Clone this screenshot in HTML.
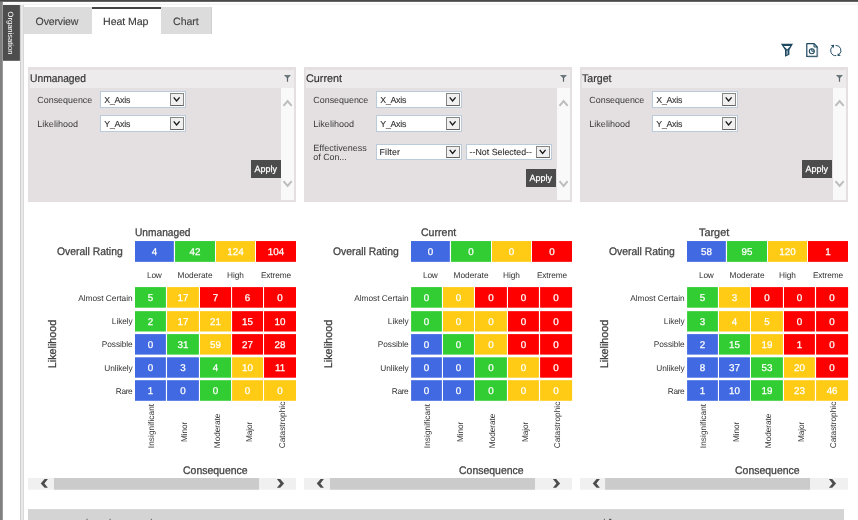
<!DOCTYPE html>
<html><head><meta charset="utf-8"><title>Heat Map</title>
<style>
html,body{margin:0;padding:0;background:#fff;}
body{width:858px;height:520px;overflow:hidden;position:relative;font-family:"Liberation Sans",sans-serif;}
#r{will-change:transform;position:absolute;left:0;top:0;width:858px;height:520px;overflow:hidden;background:#fff;}
#r div,#r span,#r svg{position:absolute;display:block;}
#r span{white-space:nowrap;line-height:1;text-rendering:geometricPrecision;}
</style></head>
<body><div id="r">
<div style="left:0px;top:0px;width:858px;height:1px;background:#484848;"></div>
<div style="left:0px;top:1px;width:858px;height:1px;background:#666666;"></div>
<div style="left:3px;top:3px;width:855px;height:1px;background:#fafafa;"></div>
<div style="left:3px;top:4px;width:855px;height:1px;background:#f4f4f4;"></div>
<div style="left:0px;top:2px;width:2px;height:518px;background:#808080;"></div>
<div style="left:2px;top:2px;width:1px;height:518px;background:#9a9a9a;"></div>
<svg style="left:3px;top:5px" width="17" height="56" viewBox="0 0 17 56"><rect x="0" y="0" width="16.9" height="55.8" fill="#4d4d4d"/></svg>
<span style="left:10.40px;top:32.50px;font-size:7.6px;color:#fff;transform:translate(-50%,-50%) rotate(90deg);letter-spacing:-0.008px;margin-left:-0.00px;">Organisation</span>
<div style="left:20px;top:5px;width:4px;height:515px;background:#e9e9e9;"></div>
<div style="left:20px;top:5px;width:1px;height:515px;background:#cdcdcd;"></div>
<div style="left:23px;top:5px;width:1px;height:515px;background:#d8d8d8;"></div>
<div style="left:24px;top:7px;width:68px;height:27px;background:#dcdcdc;"></div>
<div style="left:92px;top:7px;width:69px;height:27px;background:#fff;"></div>
<div style="left:92px;top:7px;width:69px;height:2px;background:#444;"></div>
<div style="left:161px;top:7px;width:51px;height:27px;background:#dcdcdc;"></div>
<div style="left:211px;top:7px;width:1px;height:27px;background:#cfcfcf;"></div>
<span style="left:35.62px;top:16px;font-size:10.6px;line-height:12px;height:12px;color:#444;letter-spacing:-0.197px;-webkit-text-stroke:0.12px #444;">Overview</span>
<span style="left:103.12px;top:16px;font-size:10.6px;line-height:12px;height:12px;color:#3a3a3a;letter-spacing:-0.080px;-webkit-text-stroke:0.12px #3a3a3a;">Heat Map</span>
<span style="left:173.12px;top:16px;font-size:10.6px;line-height:12px;height:12px;color:#444;letter-spacing:-0.105px;-webkit-text-stroke:0.12px #444;">Chart</span>
<svg style="left:780px;top:43px" width="14" height="15" viewBox="0 0 14 15"><path d="M0.9 0.8 H13 L9.4 6.9 V11.8 L5 13.8 V6.9 Z" fill="#1d4860"/><path d="M3.7 2.9 H10.3 L7.2 6.4 Z" fill="#fff"/><path d="M6.4 7.6 H8.1 V11.2 L6.4 12.1 Z" fill="#8fa4b1"/></svg>
<svg style="left:805px;top:42px" width="14" height="16" viewBox="0 0 14 16"><path d="M1.8 1.7 H9 L12.2 5 V14.4 H1.8 Z" fill="#fff" stroke="#1d4860" stroke-width="1.2" stroke-linejoin="round"/><path d="M12.9 6 V15.1 H3" fill="none" stroke="#9db0bc" stroke-width="0.6"/><path d="M9 1.7 V5 H12.2 Z" fill="#dbe3e8" stroke="#1d4860" stroke-width="1" stroke-linejoin="round"/><circle cx="6.8" cy="9.2" r="2.5" fill="none" stroke="#1d4860" stroke-width="1.1"/><path d="M6.8 6.8 V9.2 H9.2" fill="none" stroke="#1d4860" stroke-width="1"/></svg>
<svg style="left:829px;top:43px" width="14" height="15" viewBox="0 0 14 15"><path d="M7.3 12.6 A5.1 5.1 0 0 1 3.6 3.5" fill="none" stroke="#1d4860" stroke-width="0.95"/><path d="M6.5 2.4 A5.1 5.1 0 0 1 10.0 11.5" fill="none" stroke="#1d4860" stroke-width="0.95"/><path d="M1.7 2.3 L5.0 1.8 L4.8 5.0 Z" fill="#1d4860"/><path d="M8.5 13.1 L8.8 10.2 L11.8 12.8 Z" fill="#1d4860"/></svg>
<div style="left:28px;top:67px;width:268px;height:135px;background:#e4dfe0;"></div>
<div style="left:30px;top:70px;width:264px;height:18px;background:#edebec;"></div>
<div style="left:281px;top:88px;width:13px;height:112px;background:#f9f9f9;"></div>
<span style="left:30.09px;top:73px;font-size:11.0px;line-height:12px;height:12px;color:#363636;-webkit-text-stroke:0.2px #363636;transform:scaleX(0.9344);transform-origin:0 0;">Unmanaged</span>
<svg style="left:283.6px;top:74px" width="8" height="9" viewBox="0 0 8 9"><path d="M0 0.9 H6.9 L4.1 4.1 V7.7 H2.9 V4.1 Z" fill="#5a656b"/><path d="M1.4 2 H5.5" stroke="#98a1a6" stroke-width="0.6"/></svg>
<svg style="left:281px;top:96px" width="13" height="14" viewBox="0 0 13 14"><path d="M2.50 9.90 L6.60 5.10 L10.70 9.90" fill="none" stroke="#bebdbd" stroke-width="2.0"/></svg>
<svg style="left:281px;top:176px" width="13" height="14" viewBox="0 0 13 14"><path d="M2.50 5.20 L6.60 10.00 L10.70 5.20" fill="none" stroke="#bebdbd" stroke-width="2.0"/></svg>
<span style="left:37.31px;top:95px;font-size:8.91px;line-height:10px;height:10px;color:#3a3a3a;letter-spacing:0.001px;">Consequence</span>
<div style="left:100px;top:91px;width:86px;height:17px;background:#fff;border:1px solid #bccbda;box-sizing:border-box;"></div>
<div style="left:170px;top:93px;width:14px;height:13px;background:#f0f0f0;border:1px solid #868686;border-bottom-color:#646464;box-sizing:border-box;"></div>
<svg style="left:170px;top:93px" width="14" height="13" viewBox="0 0 14 13"><path d="M3.7 4.40 L6.6 8.00 L9.6 4.40" fill="none" stroke="#161616" stroke-width="1.3"/></svg>
<span style="left:104.32px;top:95px;font-size:8.8px;line-height:10px;height:10px;color:#2e2e2e;letter-spacing:-0.278px;-webkit-text-stroke:0.1px #2e2e2e;">X_Axis</span>
<span style="left:37.30px;top:119px;font-size:9.06px;line-height:10px;height:10px;color:#3a3a3a;letter-spacing:-0.000px;">Likelihood</span>
<div style="left:100px;top:115px;width:86px;height:17px;background:#fff;border:1px solid #bccbda;box-sizing:border-box;"></div>
<div style="left:170px;top:117px;width:14px;height:13px;background:#f0f0f0;border:1px solid #868686;border-bottom-color:#646464;box-sizing:border-box;"></div>
<svg style="left:170px;top:117px" width="14" height="13" viewBox="0 0 14 13"><path d="M3.7 4.40 L6.6 8.00 L9.6 4.40" fill="none" stroke="#161616" stroke-width="1.3"/></svg>
<span style="left:104.32px;top:119px;font-size:8.8px;line-height:10px;height:10px;color:#2e2e2e;letter-spacing:-0.278px;-webkit-text-stroke:0.1px #2e2e2e;">Y_Axis</span>
<div style="left:251px;top:160px;width:30px;height:18px;background:#4c4c4c;"></div>
<span style="left:254.60px;top:164px;font-size:9.02px;line-height:10px;height:10px;color:#fff;letter-spacing:-0.041px;-webkit-text-stroke:0.25px #fff;">Apply</span>
<div style="left:304px;top:67px;width:268px;height:135px;background:#e4dfe0;"></div>
<div style="left:306px;top:70px;width:264px;height:18px;background:#edebec;"></div>
<div style="left:557px;top:88px;width:13px;height:112px;background:#f9f9f9;"></div>
<span style="left:306.09px;top:73px;font-size:11.0px;line-height:12px;height:12px;color:#363636;-webkit-text-stroke:0.2px #363636;transform:scaleX(0.9814);transform-origin:0 0;">Current</span>
<svg style="left:559.6px;top:74px" width="8" height="9" viewBox="0 0 8 9"><path d="M0 0.9 H6.9 L4.1 4.1 V7.7 H2.9 V4.1 Z" fill="#5a656b"/><path d="M1.4 2 H5.5" stroke="#98a1a6" stroke-width="0.6"/></svg>
<svg style="left:557px;top:96px" width="13" height="14" viewBox="0 0 13 14"><path d="M2.50 9.90 L6.60 5.10 L10.70 9.90" fill="none" stroke="#bebdbd" stroke-width="2.0"/></svg>
<svg style="left:557px;top:176px" width="13" height="14" viewBox="0 0 13 14"><path d="M2.50 5.20 L6.60 10.00 L10.70 5.20" fill="none" stroke="#bebdbd" stroke-width="2.0"/></svg>
<span style="left:313.31px;top:95px;font-size:8.91px;line-height:10px;height:10px;color:#3a3a3a;letter-spacing:0.001px;">Consequence</span>
<div style="left:376px;top:91px;width:86px;height:17px;background:#fff;border:1px solid #bccbda;box-sizing:border-box;"></div>
<div style="left:446px;top:93px;width:14px;height:13px;background:#f0f0f0;border:1px solid #868686;border-bottom-color:#646464;box-sizing:border-box;"></div>
<svg style="left:446px;top:93px" width="14" height="13" viewBox="0 0 14 13"><path d="M3.7 4.40 L6.6 8.00 L9.6 4.40" fill="none" stroke="#161616" stroke-width="1.3"/></svg>
<span style="left:380.32px;top:95px;font-size:8.8px;line-height:10px;height:10px;color:#2e2e2e;letter-spacing:-0.278px;-webkit-text-stroke:0.1px #2e2e2e;">X_Axis</span>
<span style="left:313.30px;top:119px;font-size:9.06px;line-height:10px;height:10px;color:#3a3a3a;letter-spacing:-0.000px;">Likelihood</span>
<div style="left:376px;top:115px;width:86px;height:17px;background:#fff;border:1px solid #bccbda;box-sizing:border-box;"></div>
<div style="left:446px;top:117px;width:14px;height:13px;background:#f0f0f0;border:1px solid #868686;border-bottom-color:#646464;box-sizing:border-box;"></div>
<svg style="left:446px;top:117px" width="14" height="13" viewBox="0 0 14 13"><path d="M3.7 4.40 L6.6 8.00 L9.6 4.40" fill="none" stroke="#161616" stroke-width="1.3"/></svg>
<span style="left:380.32px;top:119px;font-size:8.8px;line-height:10px;height:10px;color:#2e2e2e;letter-spacing:-0.278px;-webkit-text-stroke:0.1px #2e2e2e;">Y_Axis</span>
<span style="left:313.30px;top:143px;font-size:9.02px;line-height:10px;height:10px;color:#3a3a3a;letter-spacing:0.001px;">Effectiveness</span>
<span style="left:313.31px;top:152px;font-size:8.86px;line-height:10px;height:10px;color:#3a3a3a;letter-spacing:0.001px;">of Con...</span>
<div style="left:376px;top:144px;width:86px;height:16px;background:#fff;border:1px solid #bccbda;box-sizing:border-box;"></div>
<div style="left:446px;top:146px;width:14px;height:12px;background:#f0f0f0;border:1px solid #868686;border-bottom-color:#646464;box-sizing:border-box;"></div>
<svg style="left:446px;top:146px" width="14" height="12" viewBox="0 0 14 12"><path d="M3.7 3.90 L6.6 7.50 L9.6 3.90" fill="none" stroke="#161616" stroke-width="1.3"/></svg>
<span style="left:379.52px;top:147px;font-size:8.8px;line-height:10px;height:10px;color:#2e2e2e;letter-spacing:0.189px;-webkit-text-stroke:0.1px #2e2e2e;">Filter</span>
<div style="left:466px;top:144px;width:86px;height:16px;background:#fff;border:1px solid #bccbda;box-sizing:border-box;"></div>
<div style="left:536px;top:146px;width:14px;height:12px;background:#f0f0f0;border:1px solid #868686;border-bottom-color:#646464;box-sizing:border-box;"></div>
<svg style="left:536px;top:146px" width="14" height="12" viewBox="0 0 14 12"><path d="M3.7 3.90 L6.6 7.50 L9.6 3.90" fill="none" stroke="#161616" stroke-width="1.3"/></svg>
<span style="left:469.52px;top:147px;font-size:8.8px;line-height:10px;height:10px;color:#2e2e2e;letter-spacing:0.026px;-webkit-text-stroke:0.1px #2e2e2e;">--Not Selected--</span>
<div style="left:526px;top:169px;width:30px;height:18px;background:#4c4c4c;"></div>
<span style="left:529.60px;top:173px;font-size:9.02px;line-height:10px;height:10px;color:#fff;letter-spacing:-0.041px;-webkit-text-stroke:0.25px #fff;">Apply</span>
<div style="left:580px;top:67px;width:268px;height:135px;background:#e4dfe0;"></div>
<div style="left:582px;top:70px;width:264px;height:18px;background:#edebec;"></div>
<div style="left:833px;top:88px;width:13px;height:112px;background:#f9f9f9;"></div>
<span style="left:581.60px;top:73px;font-size:11.0px;line-height:12px;height:12px;color:#363636;-webkit-text-stroke:0.2px #363636;transform:scaleX(0.9649);transform-origin:0 0;">Target</span>
<svg style="left:835.6px;top:74px" width="8" height="9" viewBox="0 0 8 9"><path d="M0 0.9 H6.9 L4.1 4.1 V7.7 H2.9 V4.1 Z" fill="#5a656b"/><path d="M1.4 2 H5.5" stroke="#98a1a6" stroke-width="0.6"/></svg>
<svg style="left:833px;top:96px" width="13" height="14" viewBox="0 0 13 14"><path d="M2.50 9.90 L6.60 5.10 L10.70 9.90" fill="none" stroke="#bebdbd" stroke-width="2.0"/></svg>
<svg style="left:833px;top:176px" width="13" height="14" viewBox="0 0 13 14"><path d="M2.50 5.20 L6.60 10.00 L10.70 5.20" fill="none" stroke="#bebdbd" stroke-width="2.0"/></svg>
<span style="left:589.31px;top:95px;font-size:8.91px;line-height:10px;height:10px;color:#3a3a3a;letter-spacing:0.001px;">Consequence</span>
<div style="left:652px;top:91px;width:86px;height:17px;background:#fff;border:1px solid #bccbda;box-sizing:border-box;"></div>
<div style="left:722px;top:93px;width:14px;height:13px;background:#f0f0f0;border:1px solid #868686;border-bottom-color:#646464;box-sizing:border-box;"></div>
<svg style="left:722px;top:93px" width="14" height="13" viewBox="0 0 14 13"><path d="M3.7 4.40 L6.6 8.00 L9.6 4.40" fill="none" stroke="#161616" stroke-width="1.3"/></svg>
<span style="left:656.32px;top:95px;font-size:8.8px;line-height:10px;height:10px;color:#2e2e2e;letter-spacing:-0.278px;-webkit-text-stroke:0.1px #2e2e2e;">X_Axis</span>
<span style="left:589.30px;top:119px;font-size:9.06px;line-height:10px;height:10px;color:#3a3a3a;letter-spacing:-0.000px;">Likelihood</span>
<div style="left:652px;top:115px;width:86px;height:17px;background:#fff;border:1px solid #bccbda;box-sizing:border-box;"></div>
<div style="left:722px;top:117px;width:14px;height:13px;background:#f0f0f0;border:1px solid #868686;border-bottom-color:#646464;box-sizing:border-box;"></div>
<svg style="left:722px;top:117px" width="14" height="13" viewBox="0 0 14 13"><path d="M3.7 4.40 L6.6 8.00 L9.6 4.40" fill="none" stroke="#161616" stroke-width="1.3"/></svg>
<span style="left:656.32px;top:119px;font-size:8.8px;line-height:10px;height:10px;color:#2e2e2e;letter-spacing:-0.278px;-webkit-text-stroke:0.1px #2e2e2e;">Y_Axis</span>
<div style="left:802px;top:160px;width:30px;height:18px;background:#4c4c4c;"></div>
<span style="left:805.60px;top:164px;font-size:9.02px;line-height:10px;height:10px;color:#fff;letter-spacing:-0.041px;-webkit-text-stroke:0.25px #fff;">Apply</span>
<svg style="left:0;top:0" width="858" height="520" viewBox="0 0 858 520"><rect x="135.00" y="241.05" width="38.85" height="20.80" fill="#4169e1"/><rect x="175.05" y="241.05" width="39.95" height="20.80" fill="#32cd32"/><rect x="216.00" y="241.05" width="39.00" height="20.80" fill="#ffcb14"/><rect x="256.00" y="241.05" width="40.00" height="20.80" fill="#ff0000"/><rect x="135.00" y="287.10" width="30.90" height="20.60" fill="#32cd32"/><rect x="167.05" y="287.10" width="31.85" height="20.60" fill="#ffcb14"/><rect x="200.00" y="287.10" width="31.05" height="20.60" fill="#ff0000"/><rect x="232.10" y="287.10" width="30.90" height="20.60" fill="#ff0000"/><rect x="264.05" y="287.10" width="31.95" height="20.60" fill="#ff0000"/><rect x="135.00" y="311.15" width="30.90" height="20.35" fill="#32cd32"/><rect x="167.05" y="311.15" width="31.85" height="20.35" fill="#ffcb14"/><rect x="200.00" y="311.15" width="31.05" height="20.35" fill="#ffcb14"/><rect x="232.10" y="311.15" width="30.90" height="20.35" fill="#ff0000"/><rect x="264.05" y="311.15" width="31.95" height="20.35" fill="#ff0000"/><rect x="135.00" y="334.10" width="30.90" height="20.50" fill="#4169e1"/><rect x="167.05" y="334.10" width="31.85" height="20.50" fill="#32cd32"/><rect x="200.00" y="334.10" width="31.05" height="20.50" fill="#ffcb14"/><rect x="232.10" y="334.10" width="30.90" height="20.50" fill="#ff0000"/><rect x="264.05" y="334.10" width="31.95" height="20.50" fill="#ff0000"/><rect x="135.00" y="357.30" width="30.90" height="20.40" fill="#4169e1"/><rect x="167.05" y="357.30" width="31.85" height="20.40" fill="#4169e1"/><rect x="200.00" y="357.30" width="31.05" height="20.40" fill="#32cd32"/><rect x="232.10" y="357.30" width="30.90" height="20.40" fill="#ffcb14"/><rect x="264.05" y="357.30" width="31.95" height="20.40" fill="#ff0000"/><rect x="135.00" y="380.20" width="30.90" height="20.60" fill="#4169e1"/><rect x="167.05" y="380.20" width="31.85" height="20.60" fill="#4169e1"/><rect x="200.00" y="380.20" width="31.05" height="20.60" fill="#32cd32"/><rect x="232.10" y="380.20" width="30.90" height="20.60" fill="#ffcb14"/><rect x="264.05" y="380.20" width="31.95" height="20.60" fill="#ffcb14"/><rect x="28.00" y="478.00" width="268.00" height="11.70" fill="#f0f0f0"/><rect x="54.00" y="478.00" width="205.00" height="11.70" fill="#cbcbcb"/><rect x="411.00" y="241.05" width="38.85" height="20.80" fill="#4169e1"/><rect x="451.05" y="241.05" width="39.95" height="20.80" fill="#32cd32"/><rect x="492.00" y="241.05" width="39.00" height="20.80" fill="#ffcb14"/><rect x="532.00" y="241.05" width="40.00" height="20.80" fill="#ff0000"/><rect x="411.10" y="287.10" width="30.80" height="20.60" fill="#32cd32"/><rect x="443.00" y="287.10" width="30.95" height="20.60" fill="#ffcb14"/><rect x="475.00" y="287.10" width="31.90" height="20.60" fill="#ff0000"/><rect x="508.00" y="287.10" width="30.90" height="20.60" fill="#ff0000"/><rect x="540.10" y="287.10" width="32.00" height="20.60" fill="#ff0000"/><rect x="411.10" y="311.15" width="30.80" height="20.35" fill="#32cd32"/><rect x="443.00" y="311.15" width="30.95" height="20.35" fill="#ffcb14"/><rect x="475.00" y="311.15" width="31.90" height="20.35" fill="#ffcb14"/><rect x="508.00" y="311.15" width="30.90" height="20.35" fill="#ff0000"/><rect x="540.10" y="311.15" width="32.00" height="20.35" fill="#ff0000"/><rect x="411.10" y="334.10" width="30.80" height="20.50" fill="#4169e1"/><rect x="443.00" y="334.10" width="30.95" height="20.50" fill="#32cd32"/><rect x="475.00" y="334.10" width="31.90" height="20.50" fill="#ffcb14"/><rect x="508.00" y="334.10" width="30.90" height="20.50" fill="#ff0000"/><rect x="540.10" y="334.10" width="32.00" height="20.50" fill="#ff0000"/><rect x="411.10" y="357.30" width="30.80" height="20.40" fill="#4169e1"/><rect x="443.00" y="357.30" width="30.95" height="20.40" fill="#4169e1"/><rect x="475.00" y="357.30" width="31.90" height="20.40" fill="#32cd32"/><rect x="508.00" y="357.30" width="30.90" height="20.40" fill="#ffcb14"/><rect x="540.10" y="357.30" width="32.00" height="20.40" fill="#ff0000"/><rect x="411.10" y="380.20" width="30.80" height="20.60" fill="#4169e1"/><rect x="443.00" y="380.20" width="30.95" height="20.60" fill="#4169e1"/><rect x="475.00" y="380.20" width="31.90" height="20.60" fill="#32cd32"/><rect x="508.00" y="380.20" width="30.90" height="20.60" fill="#ffcb14"/><rect x="540.10" y="380.20" width="32.00" height="20.60" fill="#ffcb14"/><rect x="304.00" y="478.00" width="268.00" height="11.70" fill="#f0f0f0"/><rect x="330.00" y="478.00" width="205.00" height="11.70" fill="#cbcbcb"/><rect x="687.00" y="241.05" width="38.85" height="20.80" fill="#4169e1"/><rect x="727.05" y="241.05" width="39.95" height="20.80" fill="#32cd32"/><rect x="768.00" y="241.05" width="39.00" height="20.80" fill="#ffcb14"/><rect x="808.00" y="241.05" width="40.00" height="20.80" fill="#ff0000"/><rect x="687.10" y="287.10" width="30.80" height="20.60" fill="#32cd32"/><rect x="719.00" y="287.10" width="30.95" height="20.60" fill="#ffcb14"/><rect x="751.00" y="287.10" width="31.90" height="20.60" fill="#ff0000"/><rect x="784.00" y="287.10" width="30.90" height="20.60" fill="#ff0000"/><rect x="816.10" y="287.10" width="32.00" height="20.60" fill="#ff0000"/><rect x="687.10" y="311.15" width="30.80" height="20.35" fill="#32cd32"/><rect x="719.00" y="311.15" width="30.95" height="20.35" fill="#ffcb14"/><rect x="751.00" y="311.15" width="31.90" height="20.35" fill="#ffcb14"/><rect x="784.00" y="311.15" width="30.90" height="20.35" fill="#ff0000"/><rect x="816.10" y="311.15" width="32.00" height="20.35" fill="#ff0000"/><rect x="687.10" y="334.10" width="30.80" height="20.50" fill="#4169e1"/><rect x="719.00" y="334.10" width="30.95" height="20.50" fill="#32cd32"/><rect x="751.00" y="334.10" width="31.90" height="20.50" fill="#ffcb14"/><rect x="784.00" y="334.10" width="30.90" height="20.50" fill="#ff0000"/><rect x="816.10" y="334.10" width="32.00" height="20.50" fill="#ff0000"/><rect x="687.10" y="357.30" width="30.80" height="20.40" fill="#4169e1"/><rect x="719.00" y="357.30" width="30.95" height="20.40" fill="#4169e1"/><rect x="751.00" y="357.30" width="31.90" height="20.40" fill="#32cd32"/><rect x="784.00" y="357.30" width="30.90" height="20.40" fill="#ffcb14"/><rect x="816.10" y="357.30" width="32.00" height="20.40" fill="#ff0000"/><rect x="687.10" y="380.20" width="30.80" height="20.60" fill="#4169e1"/><rect x="719.00" y="380.20" width="30.95" height="20.60" fill="#4169e1"/><rect x="751.00" y="380.20" width="31.90" height="20.60" fill="#32cd32"/><rect x="784.00" y="380.20" width="30.90" height="20.60" fill="#ffcb14"/><rect x="816.10" y="380.20" width="32.00" height="20.60" fill="#ffcb14"/><rect x="580.00" y="478.00" width="268.00" height="11.70" fill="#f0f0f0"/><rect x="605.10" y="478.00" width="204.90" height="11.70" fill="#cbcbcb"/><rect x="28.00" y="509.10" width="816.00" height="10.90" fill="#d4d4d4"/><rect x="86.50" y="518.80" width="1.00" height="1.20" fill="#5a5a5a"/><rect x="109.60" y="518.80" width="1.00" height="1.20" fill="#5a5a5a"/><rect x="150.80" y="518.80" width="1.00" height="1.20" fill="#5a5a5a"/><rect x="603.90" y="518.80" width="1.00" height="1.20" fill="#5a5a5a"/><rect x="609.00" y="518.80" width="2.40" height="1.20" fill="#5a5a5a"/></svg>
<span style="left:134.95px;top:227px;font-size:11.0px;line-height:12px;height:12px;color:#444;-webkit-text-stroke:0.3px #444;transform:scaleX(0.9260);transform-origin:0 0;">Unmanaged</span>
<span style="left:57.00px;top:246px;font-size:11.0px;line-height:12px;height:12px;color:#444;-webkit-text-stroke:0.3px #444;transform:scaleX(0.9427);transform-origin:0 0;">Overall Rating</span>
<span style="left:151.70px;top:247px;font-size:9.8px;line-height:11px;height:11px;color:#fff;-webkit-text-stroke:0.25px #fff;">4</span>
<span style="left:189.57px;top:247px;font-size:9.8px;line-height:11px;height:11px;color:#fff;-webkit-text-stroke:0.25px #fff;">42</span>
<span style="left:227.32px;top:247px;font-size:9.8px;line-height:11px;height:11px;color:#fff;-webkit-text-stroke:0.25px #fff;">124</span>
<span style="left:267.82px;top:247px;font-size:9.8px;line-height:11px;height:11px;color:#fff;-webkit-text-stroke:0.25px #fff;">104</span>
<span style="left:147.03px;top:271px;font-size:8.3px;line-height:9px;height:9px;color:#333;letter-spacing:-0.213px;">Low</span>
<span style="left:177.53px;top:271px;font-size:8.3px;line-height:9px;height:9px;color:#333;letter-spacing:-0.009px;">Moderate</span>
<span style="left:227.10px;top:271px;font-size:8.3px;line-height:9px;height:9px;color:#333;letter-spacing:-0.090px;">High</span>
<span style="left:260.90px;top:271px;font-size:8.3px;line-height:9px;height:9px;color:#333;letter-spacing:-0.117px;">Extreme</span>
<span style="left:147.72px;top:293px;font-size:9.8px;line-height:11px;height:11px;color:#fff;-webkit-text-stroke:0.25px #fff;">5</span>
<span style="left:177.52px;top:293px;font-size:9.8px;line-height:11px;height:11px;color:#fff;-webkit-text-stroke:0.25px #fff;">17</span>
<span style="left:212.80px;top:293px;font-size:9.8px;line-height:11px;height:11px;color:#fff;-webkit-text-stroke:0.25px #fff;">7</span>
<span style="left:244.82px;top:293px;font-size:9.8px;line-height:11px;height:11px;color:#fff;-webkit-text-stroke:0.25px #fff;">6</span>
<span style="left:277.30px;top:293px;font-size:9.8px;line-height:11px;height:11px;color:#fff;-webkit-text-stroke:0.25px #fff;">0</span>
<span style="left:78.17px;top:294px;font-size:8.3px;line-height:9px;height:9px;color:#333;letter-spacing:0.005px;">Almost Certain</span>
<span style="left:147.72px;top:317px;font-size:9.8px;line-height:11px;height:11px;color:#fff;-webkit-text-stroke:0.25px #fff;">2</span>
<span style="left:177.52px;top:317px;font-size:9.8px;line-height:11px;height:11px;color:#fff;-webkit-text-stroke:0.25px #fff;">17</span>
<span style="left:210.07px;top:317px;font-size:9.8px;line-height:11px;height:11px;color:#fff;-webkit-text-stroke:0.25px #fff;">21</span>
<span style="left:242.10px;top:317px;font-size:9.8px;line-height:11px;height:11px;color:#fff;-webkit-text-stroke:0.25px #fff;">15</span>
<span style="left:274.57px;top:317px;font-size:9.8px;line-height:11px;height:11px;color:#fff;-webkit-text-stroke:0.25px #fff;">10</span>
<span style="left:111.87px;top:317px;font-size:8.3px;line-height:9px;height:9px;color:#333;letter-spacing:-0.084px;">Likely</span>
<span style="left:147.72px;top:340px;font-size:9.8px;line-height:11px;height:11px;color:#fff;-webkit-text-stroke:0.25px #fff;">0</span>
<span style="left:177.52px;top:340px;font-size:9.8px;line-height:11px;height:11px;color:#fff;-webkit-text-stroke:0.25px #fff;">31</span>
<span style="left:210.07px;top:340px;font-size:9.8px;line-height:11px;height:11px;color:#fff;-webkit-text-stroke:0.25px #fff;">59</span>
<span style="left:242.10px;top:340px;font-size:9.8px;line-height:11px;height:11px;color:#fff;-webkit-text-stroke:0.25px #fff;">27</span>
<span style="left:274.57px;top:340px;font-size:9.8px;line-height:11px;height:11px;color:#fff;-webkit-text-stroke:0.25px #fff;">28</span>
<span style="left:101.87px;top:340px;font-size:8.3px;line-height:9px;height:9px;color:#333;letter-spacing:-0.082px;">Possible</span>
<span style="left:147.72px;top:363px;font-size:9.8px;line-height:11px;height:11px;color:#fff;-webkit-text-stroke:0.25px #fff;">0</span>
<span style="left:180.25px;top:363px;font-size:9.8px;line-height:11px;height:11px;color:#fff;-webkit-text-stroke:0.25px #fff;">3</span>
<span style="left:212.80px;top:363px;font-size:9.8px;line-height:11px;height:11px;color:#fff;-webkit-text-stroke:0.25px #fff;">4</span>
<span style="left:242.10px;top:363px;font-size:9.8px;line-height:11px;height:11px;color:#fff;-webkit-text-stroke:0.25px #fff;">10</span>
<span style="left:274.94px;top:363px;font-size:9.8px;line-height:11px;height:11px;color:#fff;-webkit-text-stroke:0.25px #fff;">11</span>
<span style="left:104.37px;top:364px;font-size:8.3px;line-height:9px;height:9px;color:#333;letter-spacing:-0.108px;">Unlikely</span>
<span style="left:147.72px;top:386px;font-size:9.8px;line-height:11px;height:11px;color:#fff;-webkit-text-stroke:0.25px #fff;">1</span>
<span style="left:180.25px;top:386px;font-size:9.8px;line-height:11px;height:11px;color:#fff;-webkit-text-stroke:0.25px #fff;">0</span>
<span style="left:212.80px;top:386px;font-size:9.8px;line-height:11px;height:11px;color:#fff;-webkit-text-stroke:0.25px #fff;">0</span>
<span style="left:244.82px;top:386px;font-size:9.8px;line-height:11px;height:11px;color:#fff;-webkit-text-stroke:0.25px #fff;">0</span>
<span style="left:277.30px;top:386px;font-size:9.8px;line-height:11px;height:11px;color:#fff;-webkit-text-stroke:0.25px #fff;">0</span>
<span style="left:115.87px;top:387px;font-size:8.3px;line-height:9px;height:9px;color:#333;letter-spacing:-0.397px;">Rare</span>
<span style="left:52.70px;top:344.00px;font-size:11.0px;color:#444;transform:translate(-50%,-50%) rotate(-90deg) scaleX(0.9770);-webkit-text-stroke:0.3px #444;">Likelihood</span>
<span style="left:150.90px;top:425.90px;font-size:8.3px;color:#333;transform:translate(-50%,-50%) rotate(-90deg);letter-spacing:0.047px;margin-left:0.02px;">Insignificant</span>
<span style="left:183.90px;top:432.10px;font-size:8.3px;color:#333;transform:translate(-50%,-50%) rotate(-90deg);letter-spacing:-0.139px;margin-left:-0.07px;">Minor</span>
<span style="left:216.70px;top:430.85px;font-size:8.3px;color:#333;transform:translate(-50%,-50%) rotate(-90deg);letter-spacing:-0.081px;margin-left:-0.04px;">Moderate</span>
<span style="left:249.40px;top:432.10px;font-size:8.3px;color:#333;transform:translate(-50%,-50%) rotate(-90deg);letter-spacing:-0.139px;margin-left:-0.07px;">Major</span>
<span style="left:281.50px;top:424.75px;font-size:8.3px;color:#333;transform:translate(-50%,-50%) rotate(-90deg);letter-spacing:0.010px;margin-left:0.00px;">Catastrophic</span>
<span style="left:183.30px;top:465px;font-size:11.0px;line-height:12px;height:12px;color:#444;-webkit-text-stroke:0.3px #444;transform:scaleX(0.9516);transform-origin:0 0;">Consequence</span>
<svg style="left:28px;top:478px" width="268" height="12" viewBox="0 0 268 12"><path d="M12.7 5.4 L16.6 1 H19.9 L16.4 5.4 L19.9 9.8 H16.6 Z" fill="#4c4c4c"/><path d="M256.1 5.4 L252.2 1 H248.9 L252.4 5.4 L248.9 9.8 H252.2 Z" fill="#4c4c4c"/></svg>
<span style="left:420.90px;top:227px;font-size:11.0px;line-height:12px;height:12px;color:#444;-webkit-text-stroke:0.3px #444;transform:scaleX(0.9596);transform-origin:0 0;">Current</span>
<span style="left:333.00px;top:246px;font-size:11.0px;line-height:12px;height:12px;color:#444;-webkit-text-stroke:0.3px #444;transform:scaleX(0.9427);transform-origin:0 0;">Overall Rating</span>
<span style="left:427.70px;top:247px;font-size:9.8px;line-height:11px;height:11px;color:#fff;-webkit-text-stroke:0.25px #fff;">0</span>
<span style="left:468.30px;top:247px;font-size:9.8px;line-height:11px;height:11px;color:#fff;-webkit-text-stroke:0.25px #fff;">0</span>
<span style="left:508.77px;top:247px;font-size:9.8px;line-height:11px;height:11px;color:#fff;-webkit-text-stroke:0.25px #fff;">0</span>
<span style="left:549.27px;top:247px;font-size:9.8px;line-height:11px;height:11px;color:#fff;-webkit-text-stroke:0.25px #fff;">0</span>
<span style="left:423.03px;top:271px;font-size:8.3px;line-height:9px;height:9px;color:#333;letter-spacing:-0.213px;">Low</span>
<span style="left:453.52px;top:271px;font-size:8.3px;line-height:9px;height:9px;color:#333;letter-spacing:-0.009px;">Moderate</span>
<span style="left:503.10px;top:271px;font-size:8.3px;line-height:9px;height:9px;color:#333;letter-spacing:-0.090px;">High</span>
<span style="left:536.90px;top:271px;font-size:8.3px;line-height:9px;height:9px;color:#333;letter-spacing:-0.117px;">Extreme</span>
<span style="left:423.77px;top:293px;font-size:9.8px;line-height:11px;height:11px;color:#fff;-webkit-text-stroke:0.25px #fff;">0</span>
<span style="left:455.75px;top:293px;font-size:9.8px;line-height:11px;height:11px;color:#fff;-webkit-text-stroke:0.25px #fff;">0</span>
<span style="left:488.22px;top:293px;font-size:9.8px;line-height:11px;height:11px;color:#fff;-webkit-text-stroke:0.25px #fff;">0</span>
<span style="left:520.72px;top:293px;font-size:9.8px;line-height:11px;height:11px;color:#fff;-webkit-text-stroke:0.25px #fff;">0</span>
<span style="left:553.37px;top:293px;font-size:9.8px;line-height:11px;height:11px;color:#fff;-webkit-text-stroke:0.25px #fff;">0</span>
<span style="left:354.17px;top:294px;font-size:8.3px;line-height:9px;height:9px;color:#333;letter-spacing:0.005px;">Almost Certain</span>
<span style="left:423.77px;top:317px;font-size:9.8px;line-height:11px;height:11px;color:#fff;-webkit-text-stroke:0.25px #fff;">0</span>
<span style="left:455.75px;top:317px;font-size:9.8px;line-height:11px;height:11px;color:#fff;-webkit-text-stroke:0.25px #fff;">0</span>
<span style="left:488.22px;top:317px;font-size:9.8px;line-height:11px;height:11px;color:#fff;-webkit-text-stroke:0.25px #fff;">0</span>
<span style="left:520.72px;top:317px;font-size:9.8px;line-height:11px;height:11px;color:#fff;-webkit-text-stroke:0.25px #fff;">0</span>
<span style="left:553.37px;top:317px;font-size:9.8px;line-height:11px;height:11px;color:#fff;-webkit-text-stroke:0.25px #fff;">0</span>
<span style="left:387.87px;top:317px;font-size:8.3px;line-height:9px;height:9px;color:#333;letter-spacing:-0.084px;">Likely</span>
<span style="left:423.77px;top:340px;font-size:9.8px;line-height:11px;height:11px;color:#fff;-webkit-text-stroke:0.25px #fff;">0</span>
<span style="left:455.75px;top:340px;font-size:9.8px;line-height:11px;height:11px;color:#fff;-webkit-text-stroke:0.25px #fff;">0</span>
<span style="left:488.22px;top:340px;font-size:9.8px;line-height:11px;height:11px;color:#fff;-webkit-text-stroke:0.25px #fff;">0</span>
<span style="left:520.72px;top:340px;font-size:9.8px;line-height:11px;height:11px;color:#fff;-webkit-text-stroke:0.25px #fff;">0</span>
<span style="left:553.37px;top:340px;font-size:9.8px;line-height:11px;height:11px;color:#fff;-webkit-text-stroke:0.25px #fff;">0</span>
<span style="left:377.87px;top:340px;font-size:8.3px;line-height:9px;height:9px;color:#333;letter-spacing:-0.082px;">Possible</span>
<span style="left:423.77px;top:363px;font-size:9.8px;line-height:11px;height:11px;color:#fff;-webkit-text-stroke:0.25px #fff;">0</span>
<span style="left:455.75px;top:363px;font-size:9.8px;line-height:11px;height:11px;color:#fff;-webkit-text-stroke:0.25px #fff;">0</span>
<span style="left:488.22px;top:363px;font-size:9.8px;line-height:11px;height:11px;color:#fff;-webkit-text-stroke:0.25px #fff;">0</span>
<span style="left:520.72px;top:363px;font-size:9.8px;line-height:11px;height:11px;color:#fff;-webkit-text-stroke:0.25px #fff;">0</span>
<span style="left:553.37px;top:363px;font-size:9.8px;line-height:11px;height:11px;color:#fff;-webkit-text-stroke:0.25px #fff;">0</span>
<span style="left:380.37px;top:364px;font-size:8.3px;line-height:9px;height:9px;color:#333;letter-spacing:-0.108px;">Unlikely</span>
<span style="left:423.77px;top:386px;font-size:9.8px;line-height:11px;height:11px;color:#fff;-webkit-text-stroke:0.25px #fff;">0</span>
<span style="left:455.75px;top:386px;font-size:9.8px;line-height:11px;height:11px;color:#fff;-webkit-text-stroke:0.25px #fff;">0</span>
<span style="left:488.22px;top:386px;font-size:9.8px;line-height:11px;height:11px;color:#fff;-webkit-text-stroke:0.25px #fff;">0</span>
<span style="left:520.72px;top:386px;font-size:9.8px;line-height:11px;height:11px;color:#fff;-webkit-text-stroke:0.25px #fff;">0</span>
<span style="left:553.37px;top:386px;font-size:9.8px;line-height:11px;height:11px;color:#fff;-webkit-text-stroke:0.25px #fff;">0</span>
<span style="left:391.87px;top:387px;font-size:8.3px;line-height:9px;height:9px;color:#333;letter-spacing:-0.397px;">Rare</span>
<span style="left:328.70px;top:344.00px;font-size:11.0px;color:#444;transform:translate(-50%,-50%) rotate(-90deg) scaleX(0.9770);-webkit-text-stroke:0.3px #444;">Likelihood</span>
<span style="left:426.90px;top:425.90px;font-size:8.3px;color:#333;transform:translate(-50%,-50%) rotate(-90deg);letter-spacing:0.047px;margin-left:0.02px;">Insignificant</span>
<span style="left:459.90px;top:432.10px;font-size:8.3px;color:#333;transform:translate(-50%,-50%) rotate(-90deg);letter-spacing:-0.139px;margin-left:-0.07px;">Minor</span>
<span style="left:491.90px;top:430.85px;font-size:8.3px;color:#333;transform:translate(-50%,-50%) rotate(-90deg);letter-spacing:-0.081px;margin-left:-0.04px;">Moderate</span>
<span style="left:525.30px;top:432.10px;font-size:8.3px;color:#333;transform:translate(-50%,-50%) rotate(-90deg);letter-spacing:-0.139px;margin-left:-0.07px;">Major</span>
<span style="left:557.10px;top:424.75px;font-size:8.3px;color:#333;transform:translate(-50%,-50%) rotate(-90deg);letter-spacing:0.010px;margin-left:0.00px;">Catastrophic</span>
<span style="left:459.29px;top:465px;font-size:11.0px;line-height:12px;height:12px;color:#444;-webkit-text-stroke:0.3px #444;transform:scaleX(0.9516);transform-origin:0 0;">Consequence</span>
<svg style="left:304px;top:478px" width="268" height="12" viewBox="0 0 268 12"><path d="M12.7 5.4 L16.6 1 H19.9 L16.4 5.4 L19.9 9.8 H16.6 Z" fill="#4c4c4c"/><path d="M256.1 5.4 L252.2 1 H248.9 L252.4 5.4 L248.9 9.8 H252.2 Z" fill="#4c4c4c"/></svg>
<span style="left:699.20px;top:227px;font-size:11.0px;line-height:12px;height:12px;color:#444;-webkit-text-stroke:0.3px #444;transform:scaleX(0.9878);transform-origin:0 0;">Target</span>
<span style="left:609.00px;top:246px;font-size:11.0px;line-height:12px;height:12px;color:#444;-webkit-text-stroke:0.3px #444;transform:scaleX(0.9427);transform-origin:0 0;">Overall Rating</span>
<span style="left:700.97px;top:247px;font-size:9.8px;line-height:11px;height:11px;color:#fff;-webkit-text-stroke:0.25px #fff;">58</span>
<span style="left:741.57px;top:247px;font-size:9.8px;line-height:11px;height:11px;color:#fff;-webkit-text-stroke:0.25px #fff;">95</span>
<span style="left:779.32px;top:247px;font-size:9.8px;line-height:11px;height:11px;color:#fff;-webkit-text-stroke:0.25px #fff;">120</span>
<span style="left:825.27px;top:247px;font-size:9.8px;line-height:11px;height:11px;color:#fff;-webkit-text-stroke:0.25px #fff;">1</span>
<span style="left:699.02px;top:271px;font-size:8.3px;line-height:9px;height:9px;color:#333;letter-spacing:-0.213px;">Low</span>
<span style="left:729.52px;top:271px;font-size:8.3px;line-height:9px;height:9px;color:#333;letter-spacing:-0.009px;">Moderate</span>
<span style="left:779.10px;top:271px;font-size:8.3px;line-height:9px;height:9px;color:#333;letter-spacing:-0.090px;">High</span>
<span style="left:812.90px;top:271px;font-size:8.3px;line-height:9px;height:9px;color:#333;letter-spacing:-0.117px;">Extreme</span>
<span style="left:699.77px;top:293px;font-size:9.8px;line-height:11px;height:11px;color:#fff;-webkit-text-stroke:0.25px #fff;">5</span>
<span style="left:731.75px;top:293px;font-size:9.8px;line-height:11px;height:11px;color:#fff;-webkit-text-stroke:0.25px #fff;">3</span>
<span style="left:764.22px;top:293px;font-size:9.8px;line-height:11px;height:11px;color:#fff;-webkit-text-stroke:0.25px #fff;">0</span>
<span style="left:796.72px;top:293px;font-size:9.8px;line-height:11px;height:11px;color:#fff;-webkit-text-stroke:0.25px #fff;">0</span>
<span style="left:829.37px;top:293px;font-size:9.8px;line-height:11px;height:11px;color:#fff;-webkit-text-stroke:0.25px #fff;">0</span>
<span style="left:630.17px;top:294px;font-size:8.3px;line-height:9px;height:9px;color:#333;letter-spacing:0.005px;">Almost Certain</span>
<span style="left:699.77px;top:317px;font-size:9.8px;line-height:11px;height:11px;color:#fff;-webkit-text-stroke:0.25px #fff;">3</span>
<span style="left:731.75px;top:317px;font-size:9.8px;line-height:11px;height:11px;color:#fff;-webkit-text-stroke:0.25px #fff;">4</span>
<span style="left:764.22px;top:317px;font-size:9.8px;line-height:11px;height:11px;color:#fff;-webkit-text-stroke:0.25px #fff;">5</span>
<span style="left:796.72px;top:317px;font-size:9.8px;line-height:11px;height:11px;color:#fff;-webkit-text-stroke:0.25px #fff;">0</span>
<span style="left:829.37px;top:317px;font-size:9.8px;line-height:11px;height:11px;color:#fff;-webkit-text-stroke:0.25px #fff;">0</span>
<span style="left:663.87px;top:317px;font-size:8.3px;line-height:9px;height:9px;color:#333;letter-spacing:-0.084px;">Likely</span>
<span style="left:699.77px;top:340px;font-size:9.8px;line-height:11px;height:11px;color:#fff;-webkit-text-stroke:0.25px #fff;">2</span>
<span style="left:729.02px;top:340px;font-size:9.8px;line-height:11px;height:11px;color:#fff;-webkit-text-stroke:0.25px #fff;">15</span>
<span style="left:761.50px;top:340px;font-size:9.8px;line-height:11px;height:11px;color:#fff;-webkit-text-stroke:0.25px #fff;">19</span>
<span style="left:796.72px;top:340px;font-size:9.8px;line-height:11px;height:11px;color:#fff;-webkit-text-stroke:0.25px #fff;">1</span>
<span style="left:829.37px;top:340px;font-size:9.8px;line-height:11px;height:11px;color:#fff;-webkit-text-stroke:0.25px #fff;">0</span>
<span style="left:653.87px;top:340px;font-size:8.3px;line-height:9px;height:9px;color:#333;letter-spacing:-0.082px;">Possible</span>
<span style="left:699.77px;top:363px;font-size:9.8px;line-height:11px;height:11px;color:#fff;-webkit-text-stroke:0.25px #fff;">8</span>
<span style="left:729.02px;top:363px;font-size:9.8px;line-height:11px;height:11px;color:#fff;-webkit-text-stroke:0.25px #fff;">37</span>
<span style="left:761.50px;top:363px;font-size:9.8px;line-height:11px;height:11px;color:#fff;-webkit-text-stroke:0.25px #fff;">53</span>
<span style="left:794.00px;top:363px;font-size:9.8px;line-height:11px;height:11px;color:#fff;-webkit-text-stroke:0.25px #fff;">20</span>
<span style="left:829.37px;top:363px;font-size:9.8px;line-height:11px;height:11px;color:#fff;-webkit-text-stroke:0.25px #fff;">0</span>
<span style="left:656.37px;top:364px;font-size:8.3px;line-height:9px;height:9px;color:#333;letter-spacing:-0.108px;">Unlikely</span>
<span style="left:699.77px;top:386px;font-size:9.8px;line-height:11px;height:11px;color:#fff;-webkit-text-stroke:0.25px #fff;">1</span>
<span style="left:729.02px;top:386px;font-size:9.8px;line-height:11px;height:11px;color:#fff;-webkit-text-stroke:0.25px #fff;">10</span>
<span style="left:761.50px;top:386px;font-size:9.8px;line-height:11px;height:11px;color:#fff;-webkit-text-stroke:0.25px #fff;">19</span>
<span style="left:794.00px;top:386px;font-size:9.8px;line-height:11px;height:11px;color:#fff;-webkit-text-stroke:0.25px #fff;">23</span>
<span style="left:826.65px;top:386px;font-size:9.8px;line-height:11px;height:11px;color:#fff;-webkit-text-stroke:0.25px #fff;">46</span>
<span style="left:667.87px;top:387px;font-size:8.3px;line-height:9px;height:9px;color:#333;letter-spacing:-0.397px;">Rare</span>
<span style="left:604.70px;top:344.00px;font-size:11.0px;color:#444;transform:translate(-50%,-50%) rotate(-90deg) scaleX(0.9770);-webkit-text-stroke:0.3px #444;">Likelihood</span>
<span style="left:702.90px;top:425.90px;font-size:8.3px;color:#333;transform:translate(-50%,-50%) rotate(-90deg);letter-spacing:0.047px;margin-left:0.02px;">Insignificant</span>
<span style="left:735.90px;top:432.10px;font-size:8.3px;color:#333;transform:translate(-50%,-50%) rotate(-90deg);letter-spacing:-0.139px;margin-left:-0.07px;">Minor</span>
<span style="left:767.90px;top:430.85px;font-size:8.3px;color:#333;transform:translate(-50%,-50%) rotate(-90deg);letter-spacing:-0.081px;margin-left:-0.04px;">Moderate</span>
<span style="left:801.30px;top:432.10px;font-size:8.3px;color:#333;transform:translate(-50%,-50%) rotate(-90deg);letter-spacing:-0.139px;margin-left:-0.07px;">Major</span>
<span style="left:833.10px;top:424.75px;font-size:8.3px;color:#333;transform:translate(-50%,-50%) rotate(-90deg);letter-spacing:0.010px;margin-left:0.00px;">Catastrophic</span>
<span style="left:735.29px;top:465px;font-size:11.0px;line-height:12px;height:12px;color:#444;-webkit-text-stroke:0.3px #444;transform:scaleX(0.9516);transform-origin:0 0;">Consequence</span>
<svg style="left:580px;top:478px" width="268" height="12" viewBox="0 0 268 12"><path d="M12.7 5.4 L16.6 1 H19.9 L16.4 5.4 L19.9 9.8 H16.6 Z" fill="#4c4c4c"/><path d="M256.1 5.4 L252.2 1 H248.9 L252.4 5.4 L248.9 9.8 H252.2 Z" fill="#4c4c4c"/></svg>
</div></body></html>
